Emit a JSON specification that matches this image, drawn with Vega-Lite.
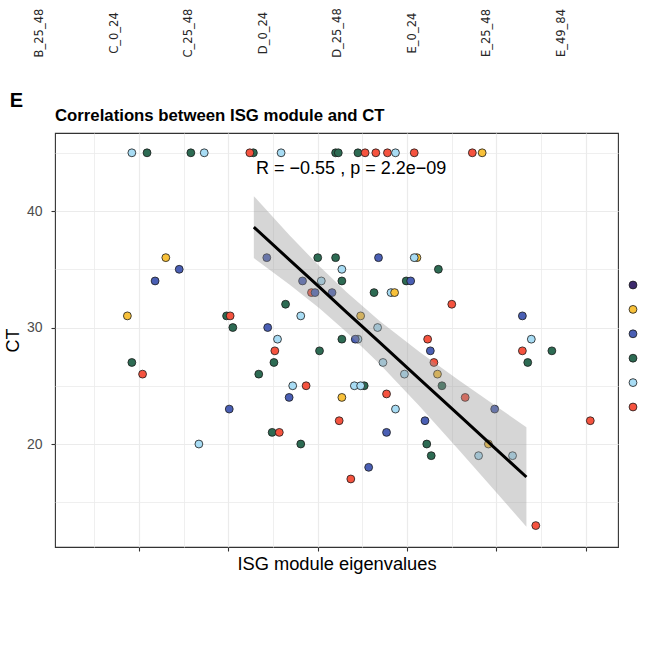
{
  "$schema": "https://vega.github.io/schema/vega-lite/v6.json",
  "width": 563,
  "height": 414,
  "autosize": {"type": "none"},
  "padding": {"left": 55, "top": 133, "right": 28, "bottom": 124},
  "background": "white",
  "config": {
    "view": {"stroke": "#333333", "strokeWidth": 1.1},
    "font": "Liberation Sans"
  },
  "datasets": {
    "samples": [
      {"sample": "B_25_48"}, {"sample": "C_0_24"}, {"sample": "C_25_48"}, {"sample": "D_0_24"},
      {"sample": "D_25_48"}, {"sample": "E_0_24"}, {"sample": "E_25_48"}, {"sample": "E_49_84"}
    ],
    "points": [
      {"x": -0.208, "ct": 45, "group": "E"}, {"x": -0.191, "ct": 45, "group": "D"}, {"x": -0.142, "ct": 45, "group": "D"},
      {"x": -0.127, "ct": 45, "group": "E"}, {"x": -0.072, "ct": 45, "group": "D"}, {"x": -0.076, "ct": 45, "group": "F"},
      {"x": -0.041, "ct": 45, "group": "E"}, {"x": 0.020, "ct": 45, "group": "D"}, {"x": 0.023, "ct": 45, "group": "D"},
      {"x": 0.045, "ct": 45, "group": "D"}, {"x": 0.053, "ct": 45, "group": "F"}, {"x": 0.065, "ct": 45, "group": "F"},
      {"x": 0.078, "ct": 45, "group": "F"}, {"x": 0.087, "ct": 45, "group": "E"}, {"x": 0.108, "ct": 45, "group": "F"},
      {"x": 0.173, "ct": 45, "group": "F"}, {"x": 0.184, "ct": 45, "group": "B"},
      {"x": -0.170, "ct": 36, "group": "B"}, {"x": -0.057, "ct": 36, "group": "C"}, {"x": 0.000, "ct": 36, "group": "D"},
      {"x": 0.020, "ct": 36, "group": "D"}, {"x": 0.068, "ct": 36, "group": "C"}, {"x": 0.111, "ct": 36, "group": "B"},
      {"x": 0.108, "ct": 36, "group": "E"},
      {"x": -0.155, "ct": 35, "group": "C"}, {"x": 0.027, "ct": 35, "group": "E"}, {"x": 0.135, "ct": 35, "group": "D"},
      {"x": -0.182, "ct": 34, "group": "C"}, {"x": -0.017, "ct": 34, "group": "C"}, {"x": 0.004, "ct": 34, "group": "E"},
      {"x": 0.027, "ct": 34, "group": "D"}, {"x": 0.099, "ct": 34, "group": "D"}, {"x": 0.104, "ct": 34, "group": "C"},
      {"x": -0.007, "ct": 33, "group": "F"}, {"x": -0.003, "ct": 33, "group": "C"}, {"x": 0.016, "ct": 33, "group": "C"},
      {"x": 0.063, "ct": 33, "group": "D"}, {"x": 0.082, "ct": 33, "group": "E"}, {"x": 0.086, "ct": 33, "group": "B"},
      {"x": -0.036, "ct": 32, "group": "D"}, {"x": 0.150, "ct": 32, "group": "F"},
      {"x": -0.213, "ct": 31, "group": "B"}, {"x": -0.102, "ct": 31, "group": "D"}, {"x": -0.098, "ct": 31, "group": "F"},
      {"x": -0.019, "ct": 31, "group": "E"}, {"x": 0.048, "ct": 31, "group": "B"}, {"x": 0.229, "ct": 31, "group": "C"},
      {"x": -0.095, "ct": 30, "group": "D"}, {"x": -0.056, "ct": 30, "group": "C"}, {"x": 0.067, "ct": 30, "group": "E"},
      {"x": -0.045, "ct": 29, "group": "E"}, {"x": 0.027, "ct": 29, "group": "D"}, {"x": 0.045, "ct": 29, "group": "E"},
      {"x": 0.042, "ct": 29, "group": "C"}, {"x": 0.123, "ct": 29, "group": "F"}, {"x": 0.239, "ct": 29, "group": "E"},
      {"x": -0.048, "ct": 28, "group": "F"}, {"x": 0.002, "ct": 28, "group": "D"}, {"x": 0.126, "ct": 28, "group": "C"},
      {"x": 0.229, "ct": 28, "group": "F"}, {"x": 0.262, "ct": 28, "group": "D"},
      {"x": -0.208, "ct": 27, "group": "D"}, {"x": -0.049, "ct": 27, "group": "D"}, {"x": 0.073, "ct": 27, "group": "E"},
      {"x": 0.130, "ct": 27, "group": "F"}, {"x": 0.235, "ct": 27, "group": "D"},
      {"x": -0.196, "ct": 26, "group": "F"}, {"x": -0.066, "ct": 26, "group": "D"}, {"x": 0.097, "ct": 26, "group": "E"},
      {"x": 0.134, "ct": 26, "group": "B"},
      {"x": -0.028, "ct": 25, "group": "E"}, {"x": -0.013, "ct": 25, "group": "F"}, {"x": 0.052, "ct": 25, "group": "D"},
      {"x": 0.041, "ct": 25, "group": "E"}, {"x": 0.048, "ct": 25, "group": "E"}, {"x": 0.139, "ct": 25, "group": "D"},
      {"x": 0.077, "ct": 24.3, "group": "F"},
      {"x": -0.032, "ct": 24, "group": "C"}, {"x": 0.027, "ct": 24, "group": "B"}, {"x": 0.165, "ct": 24, "group": "F"},
      {"x": -0.099, "ct": 23, "group": "C"}, {"x": 0.087, "ct": 23, "group": "E"}, {"x": 0.198, "ct": 23, "group": "C"},
      {"x": 0.024, "ct": 22, "group": "F"}, {"x": 0.120, "ct": 22, "group": "C"}, {"x": 0.305, "ct": 22, "group": "F"},
      {"x": -0.051, "ct": 21, "group": "D"}, {"x": -0.043, "ct": 21, "group": "F"}, {"x": 0.077, "ct": 21, "group": "C"},
      {"x": -0.133, "ct": 20, "group": "E"}, {"x": -0.019, "ct": 20, "group": "D"}, {"x": 0.122, "ct": 20, "group": "D"},
      {"x": 0.191, "ct": 20, "group": "B"},
      {"x": 0.127, "ct": 19, "group": "D"}, {"x": 0.180, "ct": 19, "group": "E"}, {"x": 0.218, "ct": 19, "group": "E"},
      {"x": 0.057, "ct": 18, "group": "C"}, {"x": 0.037, "ct": 17, "group": "F"}, {"x": 0.244, "ct": 13, "group": "F"}
    ],
    "fit": [
      {"x": -0.0715, "fit": 38.62, "lo": 35.96, "hi": 41.28},
      {"x": -0.0313, "fit": 35.79, "lo": 33.68, "hi": 37.90},
      {"x": 0.0022, "fit": 33.44, "lo": 31.64, "hi": 35.24},
      {"x": 0.0324, "fit": 31.31, "lo": 29.60, "hi": 33.02},
      {"x": 0.0693, "fit": 28.72, "lo": 26.88, "hi": 30.56},
      {"x": 0.1140, "fit": 25.58, "lo": 23.25, "hi": 27.91},
      {"x": 0.1587, "fit": 22.43, "lo": 19.43, "hi": 25.43},
      {"x": 0.2034, "fit": 19.29, "lo": 15.54, "hi": 23.04},
      {"x": 0.2335, "fit": 17.17, "lo": 12.89, "hi": 21.45}
    ]
  },
  "layer": [
    {
      "layer": [
        {
          "data": {"name": "points"},
          "mark": {"type": "circle", "size": 62, "stroke": "#1a1a1a", "strokeWidth": 0.8, "opacity": 1},
          "encoding": {
            "x": {
              "field": "x", "type": "quantitative",
              "scale": {"domain": [-0.294, 0.336], "nice": false, "zero": false},
              "axis": {
                "values": [-0.25, -0.2, -0.15, -0.1, -0.05, 0, 0.05, 0.1, 0.15, 0.2, 0.25, 0.3],
                "labels": false,
                "domain": false,
                "grid": true,
                "gridColor": "#ebebeb",
                "gridWidth": {"condition": {"test": "abs(datum.value * 10 - round(datum.value * 10)) < 0.001", "value": 1.2}, "value": 0.8},
                "tickOpacity": {"condition": {"test": "abs(datum.value * 10 - round(datum.value * 10)) < 0.001", "value": 1}, "value": 0},
                "tickColor": "#333333",
                "tickSize": 4,
                "tickWidth": 1.1,
                "title": "ISG module eigenvalues",
                "titleFont": "Liberation Sans",
                "titleFontSize": 18.3,
                "titleFontWeight": "normal",
                "titleColor": "#000000",
                "titlePadding": 4
              }
            },
            "y": {
              "field": "ct", "type": "quantitative",
              "scale": {"domain": [11.16, 46.7], "nice": false, "zero": false},
              "axis": {
                "values": [15, 20, 25, 30, 35, 40, 45],
                "labelExpr": "datum.value % 10 == 0 ? datum.label : ''",
                "domain": false,
                "grid": true,
                "gridColor": "#ebebeb",
                "gridWidth": {"condition": {"test": "datum.value % 10 == 0", "value": 1.2}, "value": 0.8},
                "tickOpacity": {"condition": {"test": "datum.value % 10 == 0", "value": 1}, "value": 0},
                "tickColor": "#333333",
                "tickSize": 4,
                "tickWidth": 1.1,
                "labelColor": "#4d4d4d",
                "labelFont": "Liberation Sans",
                "labelFontSize": 14,
                "labelPadding": 9,
                "title": "CT",
                "titleFont": "Liberation Sans",
                "titleFontSize": 18,
                "titleFontWeight": "normal",
                "titleColor": "#000000",
                "titlePadding": 4
              }
            },
            "fill": {
              "field": "group", "type": "nominal",
              "scale": {
                "domain": ["A", "B", "C", "D", "E", "F"],
                "range": ["#3d2a6d", "#f8c13a", "#4a5fb4", "#2d6b53", "#a8dcf4", "#f5533f"]
              },
              "legend": {
                "title": null,
                "orient": "none",
                "legendX": 571,
                "legendY": 145,
                "padding": 0,
                "symbolType": "circle",
                "symbolSize": 62,
                "symbolStrokeColor": "#1a1a1a",
                "symbolStrokeWidth": 0.8,
                "labelExpr": "''",
                "labelFontSize": 14,
                "labelOffset": 14,
                "rowPadding": 10.4
              }
            }
          }
        },
        {
          "data": {"name": "fit"},
          "mark": {"type": "area", "fill": "#999999", "opacity": 0.4},
          "encoding": {
            "x": {"field": "x", "type": "quantitative"},
            "y": {"field": "lo", "type": "quantitative"},
            "y2": {"field": "hi"}
          }
        },
        {
          "data": {"name": "fit"},
          "mark": {"type": "line", "color": "#000000", "strokeWidth": 3},
          "encoding": {
            "x": {"field": "x", "type": "quantitative"},
            "y": {"field": "fit", "type": "quantitative"}
          }
        },
        {
          "data": {"values": [{"label": "R = −0.55 , p = 2.2e−09"}]},
          "mark": {"type": "text", "align": "left", "baseline": "alphabetic", "fontSize": 18, "font": "Liberation Sans", "color": "#000000"},
          "encoding": {
            "x": {"datum": -0.069, "type": "quantitative"},
            "y": {"datum": 43.2, "type": "quantitative"},
            "text": {"field": "label"}
          }
        },
        {
          "data": {"values": [{"label": "Correlations between ISG module and CT"}]},
          "mark": {"type": "text", "align": "left", "baseline": "alphabetic", "fontSize": 16.75, "fontWeight": "bold", "font": "Liberation Sans", "color": "#000000"},
          "encoding": {
            "x": {"datum": -0.294, "type": "quantitative"},
            "y": {"datum": 47.73, "type": "quantitative"},
            "text": {"field": "label"}
          }
        },
        {
          "data": {"values": [{"label": "E"}]},
          "mark": {"type": "text", "align": "left", "baseline": "alphabetic", "fontSize": 20, "fontWeight": "bold", "font": "Liberation Sans", "color": "#000000"},
          "encoding": {
            "x": {"datum": -0.3445, "type": "quantitative"},
            "y": {"datum": 48.97, "type": "quantitative"},
            "text": {"field": "label"}
          }
        }
      ]
    },
    {
      "data": {"name": "samples"},
      "mark": {"type": "text", "angle": 270, "align": "center", "baseline": "middle", "fontSize": 11.5, "font": "DejaVu Sans", "color": "#262626"},
      "encoding": {
        "x": {"field": "sample", "type": "nominal", "sort": null, "scale": {"type": "point", "range": [-15, 507], "padding": 0}, "axis": null},
        "y": {"datum": 55.28, "type": "quantitative"},
        "text": {"field": "sample"}
      }
    }
  ],
  "resolve": {"scale": {"x": "independent"}, "axis": {"x": "independent"}}
}
